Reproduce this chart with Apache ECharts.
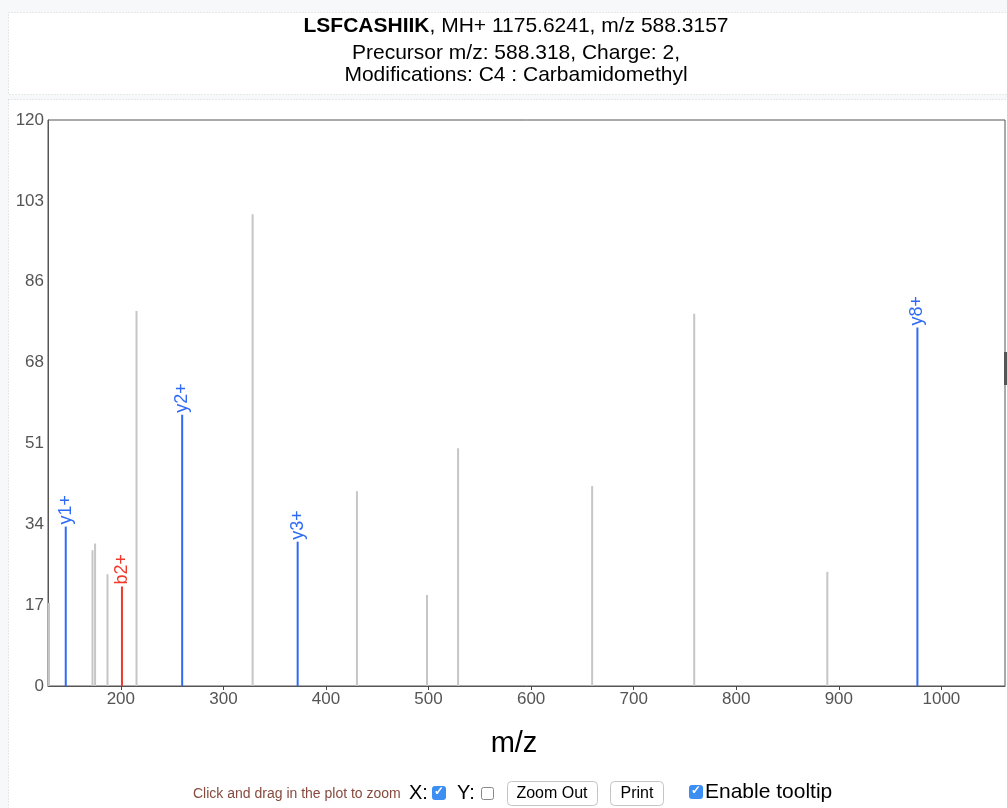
<!DOCTYPE html>
<html>
<head>
<meta charset="utf-8">
<script src="https://cdn.jsdelivr.net/npm/echarts@6/dist/echarts.min.js"></script>
<style>
html,body{margin:0;padding:0;background:#f6f8f9;}
#chart{width:1007px;height:808px;}
</style>
</head>
<body>
<div id="chart"></div>
<script>
// ---- data ----
var peakMz        = [130, 146.3, 172.4, 174.9, 187.0, 201.1, 215.3, 259.8, 328.5, 372.4, 430.2, 498.5, 528.8, 659.5, 759.0, 888.8, 976.6];
var peakIntensity = [17.6, 33.8, 28.8, 30.2, 23.7, 21.1, 79.5, 57.5, 100.0, 30.6, 41.3, 19.3, 50.4, 42.4, 78.9, 24.2, 76.0];
var peakIon       = ['', 'y1+', '', '', '', 'b2+', '', 'y2+', '', 'y3+', '', '', '', '', '', '', 'y8+'];
var xTickValues   = [200, 300, 400, 500, 600, 700, 800, 900, 1000];
var yTickLabels   = ['0', '17', '34', '51', '68', '86', '103', '120'];
var titleLines    = ['Precursor m/z: 588.318, Charge: 2,', 'Modifications: C4 : Carbamidomethyl'];

var FONT = "'Liberation Sans', Arial, Helvetica, sans-serif";
var GREY = '#c6c6c6', BLUE = '#2f6af7', RED = '#f0392b';

function ionColor(ion){
  if (!ion) return GREY;
  return ion.charAt(0) === 'b' ? RED : BLUE;
}

var data = peakMz.map(function(mz, i){
  var ion = peakIon[i];
  var c = ionColor(ion);
  return {
    value: [mz, peakIntensity[i]],
    itemStyle: {color: c},
    label: {show: !!ion, formatter: ion, color: c}
  };
});

var chart = echarts.init(document.getElementById('chart'), null, {renderer: 'canvas'});

function checkbox(x, y, checked){
  if (checked) {
    return [
      {type:'rect', left:x, top:y, shape:{width:14, height:14, r:3}, style:{fill:'#3d8ef2'}, z:10},
      {type:'text', left:x+2, top:y, style:{text:'\u2713', fill:'#fff', font:'bold 12px ' + FONT}, z:11}
    ];
  }
  return [{type:'rect', left:x, top:y, shape:{width:12, height:12, r:2}, style:{fill:'#fff', stroke:'#888', lineWidth:1}, z:10}];
}

var graphics = [
  // title box
  {type:'rect', shape:{x:8.5, y:12.5, width:1010, height:82}, style:{fill:'#fff', stroke:'#cfd3d4', lineWidth:1, lineDash:[1,2]}, z:-10, silent:true},
  // plot box
  {type:'rect', shape:{x:8.5, y:99.5, width:1010, height:720}, style:{fill:'#fff', stroke:'#cfd3d4', lineWidth:1, lineDash:[1,2]}, z:-10, silent:true},
  // title text
  {type:'text', x:516, y:26, style:{
      text:'{b|LSFCASHIIK}{n|, MH+ 1175.6241, m/z 588.3157}',
      align:'center', verticalAlign:'middle',
      rich:{b:{font:'bold 21px ' + FONT, fill:'#000'}, n:{font:'21px ' + FONT, fill:'#000'}}
  }},
  {type:'text', x:516, y:53, style:{text:titleLines[0], align:'center', verticalAlign:'middle', font:'21px ' + FONT, fill:'#000'}},
  {type:'text', x:516, y:75, style:{text:titleLines[1], align:'center', verticalAlign:'middle', font:'21px ' + FONT, fill:'#000'}},
  // x axis name
  {type:'text', x:514, y:744, style:{text:'m/z', align:'center', verticalAlign:'middle', font:'29px ' + FONT, fill:'#000'}},
  // controls
  {type:'text', x:193, y:794, style:{text:'Click and drag in the plot to zoom', verticalAlign:'middle', font:'14px ' + FONT, fill:'#864a3e'}},
  {type:'text', x:409, y:793, style:{text:'X:', verticalAlign:'middle', font:'20px ' + FONT, fill:'#000'}},
  {type:'text', x:457, y:793, style:{text:'Y:', verticalAlign:'middle', font:'20px ' + FONT, fill:'#000'}},
  {type:'rect', shape:{x:507.5, y:781.5, width:90, height:24, r:4}, style:{fill:'#fff', stroke:'#c4c4c4', lineWidth:1}},
  {type:'text', x:552, y:794, style:{text:'Zoom Out', align:'center', verticalAlign:'middle', font:'16px ' + FONT, fill:'#000'}},
  {type:'rect', shape:{x:610.5, y:781.5, width:53, height:24, r:4}, style:{fill:'#fff', stroke:'#c4c4c4', lineWidth:1}},
  {type:'text', x:637, y:794, style:{text:'Print', align:'center', verticalAlign:'middle', font:'16px ' + FONT, fill:'#000'}},
  {type:'text', x:705, y:792, style:{text:'Enable tooltip', verticalAlign:'middle', font:'21px ' + FONT, fill:'#000'}},
  // scroll marker at right edge
  {type:'rect', shape:{x:1004, y:352, width:3, height:33}, style:{fill:'#555'}}
].concat(checkbox(432, 786, true), checkbox(481, 787, false), checkbox(689, 785, true));

chart.setOption({
  animation: false,
  backgroundColor: '#f6f8f9',
  textStyle: {fontFamily: FONT},
  grid: {left: 48, right: 2, top: 120, bottom: 122, show: true, borderColor: '#555', borderWidth: 1, backgroundColor: 'transparent'},
  xAxis: {
    type: 'value', min: 129, max: 1062,
    splitLine: {show: false},
    axisLine: {show: true, onZero: false, lineStyle: {color: '#555'}},
    axisTick: {show: true, length: 4, lineStyle: {color: '#444'}, customValues: xTickValues},
    axisLabel: {customValues: xTickValues, color: '#555', fontSize: 17, margin: 5, fontFamily: FONT,
      formatter: function(v){ return String(v); }}
  },
  yAxis: {
    type: 'value', min: 0, max: 120, interval: 120 / 7,
    splitLine: {show: false},
    axisLine: {show: true, lineStyle: {color: '#555'}},
    axisTick: {show: false},
    axisLabel: {
      color: '#555', fontSize: 17, margin: 4, fontFamily: FONT,
      formatter: function(v){ return yTickLabels[Math.round(v / (120 / 7))]; }
    }
  },
  series: [{
    type: 'bar',
    barWidth: 2,
    data: data,
    label: {
      position: 'top', rotate: 90, align: 'left', verticalAlign: 'middle',
      distance: 2, fontSize: 18, fontFamily: FONT
    },
    silent: true
  }],
  graphic: graphics
});
</script>
</body>
</html>
